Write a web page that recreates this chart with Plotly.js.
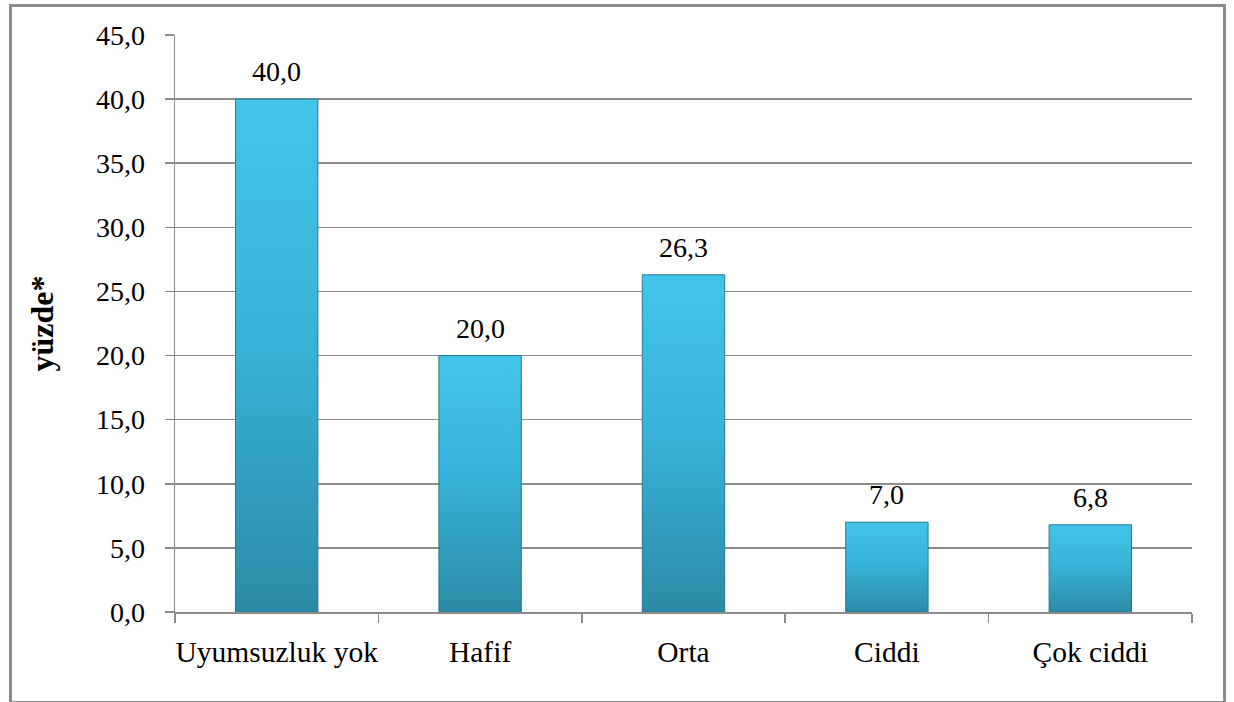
<!DOCTYPE html>
<html>
<head>
<meta charset="utf-8">
<script src="https://cdn.plot.ly/plotly-3.0.1.min.js"></script>
<style>
  html, body { margin: 0; padding: 0; background: #fff; }
  #wrap { position: relative; width: 1234px; height: 702px; }
  #chart { width: 1234px; height: 702px; }
  #frame { position: absolute; left: 9px; top: 4px; width: 1211px; height: 694px;
           border: 3px solid #8c8c8c; pointer-events: none; }
</style>
</head>
<body>
<div id="wrap">
  <div id="chart"></div>
  <div id="frame"></div>
</div>
<script>
const categories = ["Uyumsuzluk yok", "Hafif", "Orta", "Ciddi", "Çok ciddi"];
const values = [40.0, 20.0, 26.3, 7.0, 6.8];
const yTickValues = [0, 5, 10, 15, 20, 25, 30, 35, 40, 45];
const yTitle = "yüzde*";

const serif = "Liberation Serif";

const trace = {
  type: "bar",
  x: categories,
  y: values,
  marker: { color: "#35aacb", line: { color: "#237a92", width: 1 } },
  hoverinfo: "skip"
};

const annotations = categories.map((c, i) => ({
  x: c, y: values[i], xref: "x", yref: "y",
  text: values[i].toFixed(1).replace(".", ","),
  showarrow: false, yanchor: "bottom", yshift: 10,
  font: { family: serif, size: 28, color: "#000" }
}));

const layout = {
  width: 1234, height: 702,
  margin: { l: 175, r: 42, t: 35, b: 89.5 },
  paper_bgcolor: "#fff", plot_bgcolor: "#fff",
  separators: ",.",
  showlegend: false,
  bargap: 0.595,
  font: { family: serif, size: 28, color: "#000" },
  xaxis: {
    type: "category",
    tickson: "boundaries",
    tickangle: 0,
    ticks: "outside", ticklen: 9, tickcolor: "#8c8c8c", tickwidth: 1.5,
    showline: true, linecolor: "#8c8c8c", linewidth: 1.5,
    showgrid: false, zeroline: false,
    tickfont: { family: serif, size: 29.5, color: "#000" },
    ticklabelstandoff: 13,
    fixedrange: true
  },
  yaxis: {
    range: [0, 45],
    tickvals: yTickValues,
    tickformat: ".1f",
    ticks: "outside", ticklen: 9, tickcolor: "#8c8c8c", tickwidth: 1.5,
    showline: true, linecolor: "#8c8c8c", linewidth: 1.5,
    showgrid: true, gridcolor: "#8c8c8c", gridwidth: 1.5,
    zeroline: false,
    tickfont: { family: serif, size: 28, color: "#000" },
    ticklabelstandoff: 14,
    title: { text: yTitle, font: { family: serif, size: 32, color: "#000", weight: "bold" }, standoff: 32 },
    fixedrange: true
  },
  annotations: annotations
};

Plotly.newPlot("chart", [trace], layout, { displayModeBar: false, staticPlot: true }).then(gd => {
  const svg = gd.querySelector("svg.main-svg");
  const ns = "http://www.w3.org/2000/svg";
  let defs = svg.querySelector("defs");
  if (!defs) { defs = document.createElementNS(ns, "defs"); svg.insertBefore(defs, svg.firstChild); }
  const grad = document.createElementNS(ns, "linearGradient");
  grad.setAttribute("id", "barGrad");
  grad.setAttribute("x1", "0"); grad.setAttribute("y1", "0");
  grad.setAttribute("x2", "0"); grad.setAttribute("y2", "1");
  [["0", "#42c5e8"], ["0.45", "#38b4d8"], ["1", "#2b8ba6"]].forEach(([o, c]) => {
    const s = document.createElementNS(ns, "stop");
    s.setAttribute("offset", o); s.setAttribute("stop-color", c);
    grad.appendChild(s);
  });
  defs.appendChild(grad);
  gd.querySelectorAll(".bars .point path").forEach(p => {
    p.style.fill = "url(#barGrad)";
  });
});
</script>
</body>
</html>
